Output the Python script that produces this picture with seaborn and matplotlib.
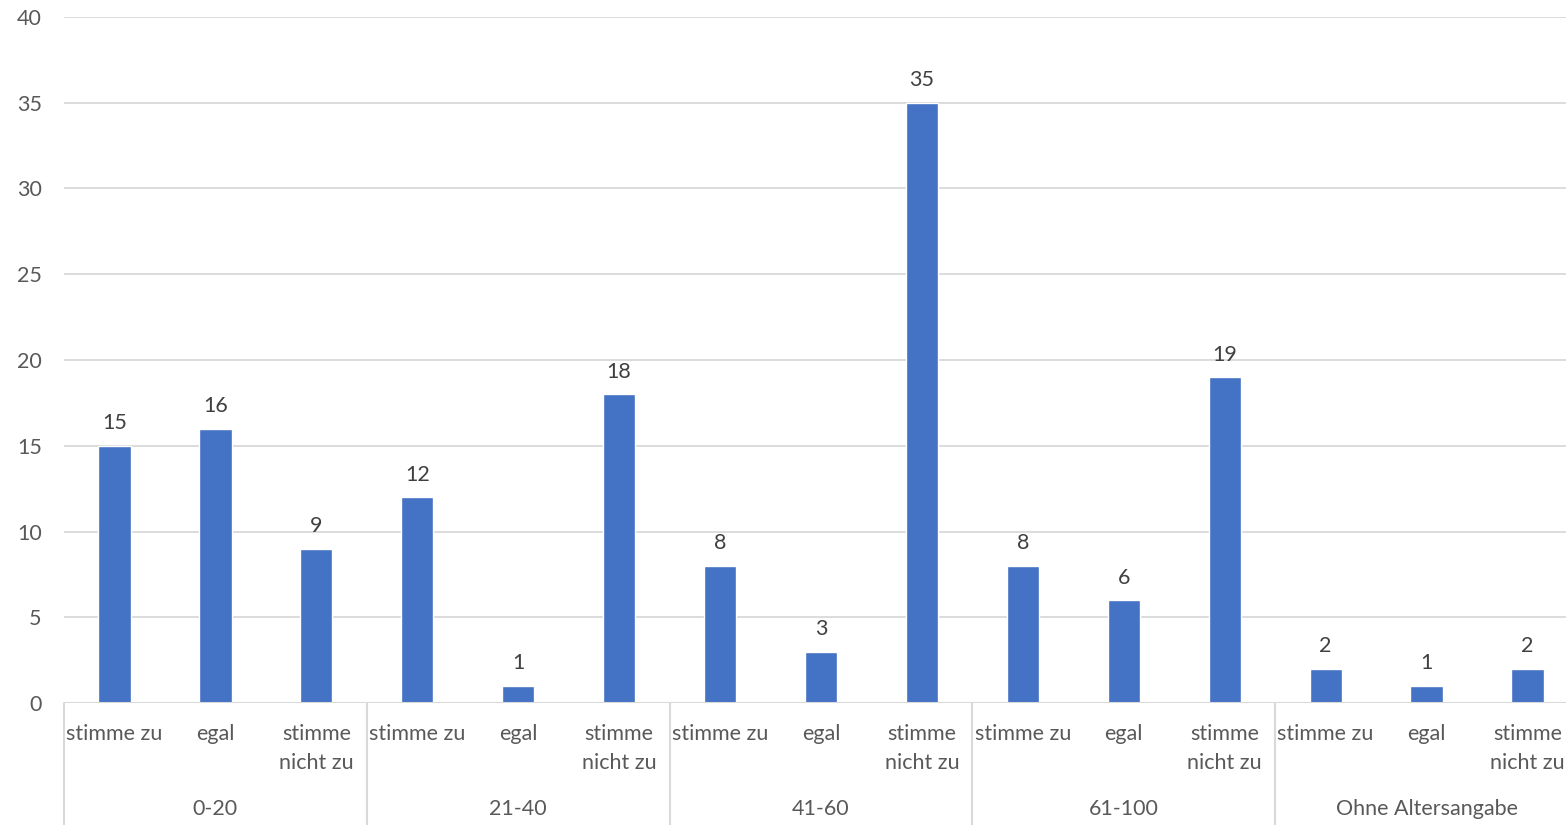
import pandas as pd
import matplotlib.pyplot as plt
import seaborn as sns
from matplotlib.lines import Line2D
import matplotlib.transforms as mtrans

groups = ["0-20", "21-40", "41-60", "61-100", "Ohne Altersangabe"]
answers = ["stimme zu", "egal", "stimme\nnicht zu"]
values = [15, 16, 9, 12, 1, 18, 8, 3, 35, 8, 6, 19, 2, 1, 2]

rows = []
for i, g in enumerate(groups):
    for j, a in enumerate(answers):
        rows.append({"pos": i * 3 + j, "group": g, "answer": a, "count": values[i * 3 + j]})
df = pd.DataFrame(rows)

sns.set_style("white")
plt.rcParams["font.family"] = ["Lato", "DejaVu Sans"]
text_col = "#595959"
grid_col = "#D9D9D9"
fs = 15.5

fig = plt.figure(figsize=(15.66, 8.25), dpi=100)
# plot area runs slightly past the right edge, like the source
ax = fig.add_axes([64 / 1566, 122 / 825, 1514 / 1566, 686 / 825])

sns.barplot(data=df, x="pos", y="count", color="#4472C4", width=0.32,
            saturation=1, ax=ax, zorder=3)

for c in ax.containers:
    ax.bar_label(c, padding=9, fontsize=fs, color="#404040")

ax.set_ylim(0, 40)
ax.set_xlim(-0.5, len(values) - 0.5)
ax.set_yticks(range(0, 41, 5))
ax.yaxis.grid(True, color=grid_col, linewidth=1.3, zorder=0)
for s in ax.spines.values():
    s.set_visible(False)
ax.tick_params(axis="y", length=0, pad=16, labelsize=fs, labelcolor=text_col)
ax.tick_params(axis="x", length=0, pad=15, labelsize=fs, labelcolor=text_col)
ax.set_xticks(df["pos"])
ax.set_xticklabels(df["answer"], linespacing=1.6, va="top")
ax.set_xlabel("")
ax.set_ylabel("")

# axis baseline
ax.axhline(0, color=grid_col, linewidth=1.5, zorder=4)

# group separators and labels below axis
trans = mtrans.blended_transform_factory(ax.transData, fig.transFigure)
for i in range(len(groups) + 1):
    x = i * 3 - 0.5
    fig.add_artist(Line2D([x, x], [0, 122 / 825], transform=trans,
                          color=grid_col, linewidth=1.5))
for i, g in enumerate(groups):
    fig.text(i * 3 + 1, 16 / 825, g, transform=trans, ha="center", va="center",
             fontsize=fs, color=text_col)

fig.savefig("out.png", dpi=100)
